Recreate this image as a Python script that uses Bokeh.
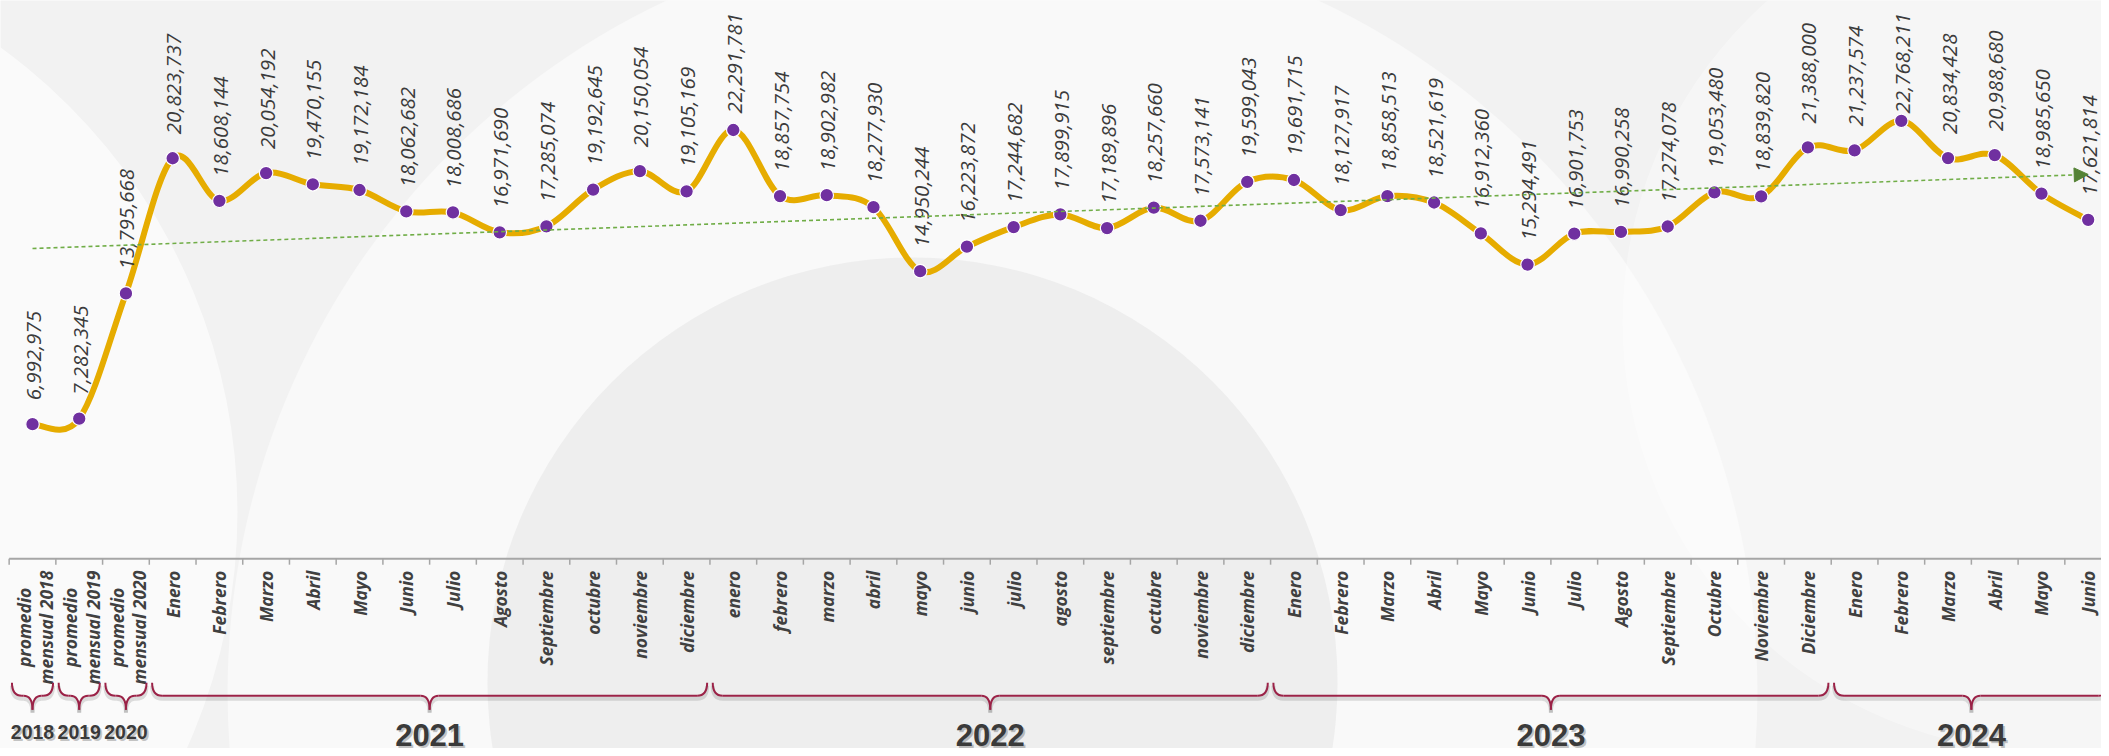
import numpy as np
from bokeh.plotting import figure
from bokeh.models import Range1d, Arrow, NormalHead
from bokeh.core.properties import value
from bokeh.embed import file_html
from bokeh.resources import INLINE

# ---------------- data ----------------
categories = [
    "promedio\nmensual 2018", "promedio\nmensual 2019", "promedio\nmensual 2020",
    "Enero", "Febrero", "Marzo", "Abril", "Mayo", "Junio", "Julio", "Agosto",
    "Septiembre", "octubre", "noviembre", "diciembre",
    "enero", "febrero", "marzo", "abril", "mayo", "junio", "julio", "agosto",
    "septiembre", "octubre", "noviembre", "diciembre",
    "Enero", "Febrero", "Marzo", "Abril", "Mayo", "Junio", "Julio", "Agosto",
    "Septiembre", "Octubre", "Noviembre", "Diciembre",
    "Enero", "Febrero", "Marzo", "Abril", "Mayo", "Junio",
]
values_avg = [6992975, 7282345, 13795668]
values_2021 = [20823737, 18608144, 20054192, 19470155, 19172184, 18062682,
               18008686, 16971690, 17285074, 19192645, 20150054, 19105169]
values_2022 = [22291781, 18857754, 18902982, 18277930, 14950244, 16223872,
               17244682, 17899915, 17189896, 18257660, 17573141, 19599043]
values_2023 = [19691715, 18127917, 18858513, 18521619, 16912360, 15294491,
               16901753, 16990258, 17274078, 19053480, 18839820, 21388000]
values_2024 = [21237574, 22768211, 20834428, 20988680, 18985650, 17621814]
years = ["2018", "2019", "2020", "2021", "2022", "2023", "2024"]
year_sizes = [1, 1, 1, 12, 12, 12, 6]

vals = np.array(values_avg + values_2021 + values_2022 + values_2023 + values_2024, dtype=float)
n = len(vals)
xs = np.arange(n, dtype=float)

# ---------------- geometry ----------------
W, H = 2101, 748
Y0, Y1 = -9.871e6, 29.027e6
X0, X1 = -0.685, 44.285
ppu = H / (Y1 - Y0)
ppx = W / (X1 - X0)


def dy(px):
    return px / ppu


def dx(px):
    return px / ppx


def px2x(px):
    return X0 + (px - 8) / ppx


def px2y(py):
    return Y1 - (py - 8) / ppu


BG = "#f2f2f2"
p = figure(width=W, height=H, x_range=Range1d(X0, X1), y_range=Range1d(Y0, Y1),
           output_backend="svg", toolbar_location=None, min_border=0,
           x_axis_location=None, y_axis_location=None,
           background_fill_color=BG, border_fill_color=BG, outline_line_color=None)
p.grid.visible = False

# ---------------- decorative background ----------------
p.circle(x=[px2x(1000)], y=[px2y(700)], radius=[765], radius_units="screen",
         fill_color="white", fill_alpha=0.5, line_color=None)
p.circle(x=[px2x(-330)], y=[px2y(520)], radius=[575], radius_units="screen",
         fill_color="white", fill_alpha=0.6, line_color=None)
p.circle(x=[px2x(920)], y=[px2y(690)], radius=[425], radius_units="screen",
         fill_color="#ececec", fill_alpha=0.9, line_color=None)
p.circle(x=[px2x(2060)], y=[px2y(330)], radius=[430], radius_units="screen",
         fill_color="white", fill_alpha=0.35, line_color=None)

# ---------------- axis ----------------
AXC = "#a6a6a6"
p.segment(x0=[xs[0] - 0.5], y0=[0], x1=[xs[-1] + 0.5], y1=[0], line_color=AXC, line_width=2)
bounds = np.arange(n + 1) - 0.5
p.segment(x0=bounds, y0=np.zeros(n + 1), x1=bounds, y1=np.full(n + 1, -dy(6)),
          line_color=AXC, line_width=1.5)

cat_style = dict(angle=np.pi / 2, text_baseline="middle", text_align="right",
                 text_font=value("Open Sans"), text_font_style="bold italic",
                 text_font_size="17.5px", text_color="#404040")
single = [i for i, c in enumerate(categories) if "\n" not in c]
multi = [i for i, c in enumerate(categories) if "\n" in c]
p.text(x=[xs[i] for i in single], y=[-dy(12)] * len(single),
       text=[categories[i] for i in single], **cat_style)
# two-line labels: each line drawn as its own rotated text
first_lines = [categories[i].split("\n")[0] for i in multi]
second_lines = [categories[i].split("\n")[1] for i in multi]
p.text(x=[xs[i] - dx(9) for i in multi], y=[-dy(29)] * len(multi),
       text=first_lines, **cat_style)
p.text(x=[xs[i] + dx(13.5) for i in multi], y=[-dy(12)] * len(multi),
       text=second_lines, **cat_style)

# ---------------- trend line ----------------
coef = np.polyfit(xs, vals, 1)
p.add_layout(Arrow(x_start=xs[0], y_start=float(np.polyval(coef, xs[0])),
                   x_end=xs[-1], y_end=float(np.polyval(coef, xs[-1])),
                   line_color="#70AD47", line_width=1.6, line_dash="4 3",
                   end=NormalHead(size=14, fill_color="#548235", line_color="#548235")))

# ---------------- smoothed line ----------------
i = np.arange(n - 1)
im1 = np.clip(i - 1, 0, n - 1)
ip2 = np.clip(i + 2, 0, n - 1)
p.bezier(x0=xs[i], y0=vals[i], x1=xs[i + 1], y1=vals[i + 1],
         cx0=xs[i] + (xs[i + 1] - xs[im1]) / 6, cy0=vals[i] + (vals[i + 1] - vals[im1]) / 6,
         cx1=xs[i + 1] - (xs[ip2] - xs[i]) / 6, cy1=vals[i + 1] - (vals[ip2] - vals[i]) / 6,
         line_color="#E6AC00", line_width=6, line_cap="round")

p.scatter(xs, vals, size=13.5, fill_color="#7030A0", line_color="white", line_width=1.2)

# ---------------- data labels ----------------
label_y = np.minimum(vals + dy(24), Y1 - dy(113))
p.text(x=xs + dx(1.5), y=label_y, text=[f"{int(v):,}" for v in vals], angle=np.pi / 2,
       text_align="left", text_baseline="middle",
       text_font=value("Open Sans"), text_font_style="italic",
       text_font_size="20.5px", text_color="#3b3b3b")

# ---------------- year braces ----------------
starts = np.concatenate([[0], np.cumsum(year_sizes)[:-1]])
sizes = np.array(year_sizes)
bx0 = starts - 0.5 + 0.06
bx1 = starts + sizes - 0.5 - 0.06
bxc = (bx0 + bx1) / 2
top, mid, tip = -dy(124), -dy(137), -dy(151)
r = np.minimum(dx(10), (bx1 - bx0) / 4)
c = np.minimum(dx(9), (bx1 - bx0) / 4)
ny = len(years)

for off, col, alpha, lw in [(dy(3), "#000000", 0.12, 4), (0, "#9B2247", 1.0, 2)]:
    qx0 = np.concatenate([bx0, bxc - c, bxc + c, bx1 - r])
    qy0 = np.concatenate([np.full(ny, top), np.full(ny, mid), np.full(ny, mid), np.full(ny, mid)]) - off
    qx1 = np.concatenate([bx0 + r, bxc, bxc, bx1])
    qy1 = np.concatenate([np.full(ny, mid), np.full(ny, tip), np.full(ny, tip), np.full(ny, top)]) - off
    qcx = np.concatenate([bx0, bxc, bxc, bx1])
    qcy = np.full(4 * ny, mid) - off
    p.quadratic(x0=qx0, y0=qy0, x1=qx1, y1=qy1, cx=qcx, cy=qcy,
                line_color=col, line_alpha=alpha, line_width=lw)
    p.segment(x0=np.concatenate([bx0 + r, bxc + c]), y0=np.full(2 * ny, mid) - off,
              x1=np.concatenate([bxc - c, bx1 - r]), y1=np.full(2 * ny, mid) - off,
              line_color=col, line_alpha=alpha, line_width=lw)

small = sizes == 1
ycen = np.where(small, -dy(173), -dy(176))
fsz = ["19.5px" if s else "31px" for s in small]
centers = starts + (sizes - 1) / 2
p.text(x=centers + dx(2), y=ycen - dy(2), text=years, text_font_size=fsz,
       text_align="center", text_baseline="middle", text_font=value("Liberation Sans"),
       text_font_style="bold", text_color="#000000", text_alpha=0.22)
p.text(x=centers, y=ycen, text=years, text_font_size=fsz,
       text_align="center", text_baseline="middle", text_font=value("Liberation Sans"),
       text_font_style="bold", text_color="#3a3a3a")

open("out.html", "w").write(file_html(p, INLINE))
